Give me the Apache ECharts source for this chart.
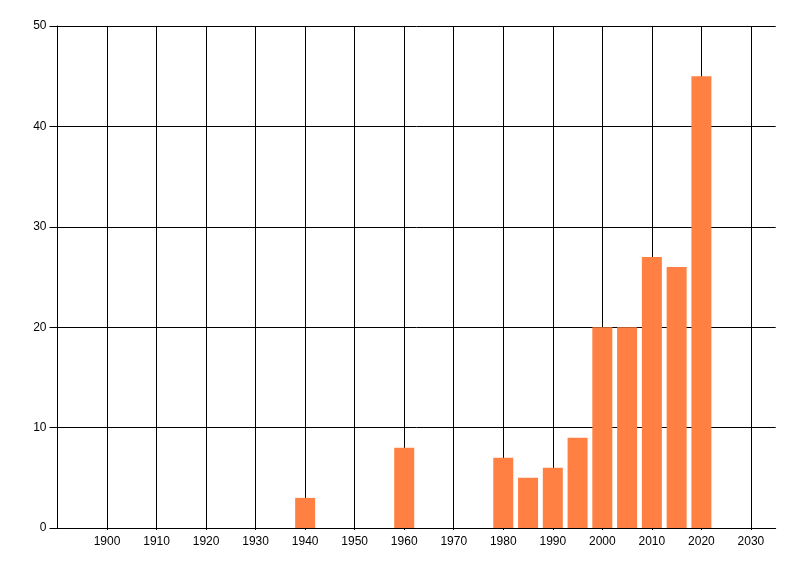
<!DOCTYPE html>
<html>
<head>
<meta charset="utf-8">
<script src="https://cdn.jsdelivr.net/npm/echarts@6/dist/echarts.min.js"></script>
<style>html,body{margin:0;padding:0;background:#fff;}#c{width:800px;height:576px;}</style>
</head>
<body>
<div id="c"></div>
<script>
const years = [1940, 1960, 1980, 1985, 1990, 1995, 2000, 2005, 2010, 2015, 2020];
const counts = [3, 8, 7, 5, 6, 9, 20, 20, 27, 26, 45];
const xMin = 1890, xMax = 2035, xStep = 10;
const yMin = 0, yMax = 50, yStep = 10;

const chart = echarts.init(document.getElementById('c'), null, {renderer: 'canvas'});
chart.setOption({
  animation: false,
  backgroundColor: '#ffffff',
  grid: {left: 57.5, right: 24.3, top: 26, bottom: 48, containLabel: false},
  xAxis: {
    type: 'value', min: xMin, max: xMax, interval: xStep,
    axisLine: {show: true, lineStyle: {color: '#000', width: 1}},
    axisTick: {show: true, length: 2, lineStyle: {color: '#000'}},
    axisLabel: {color: '#000', fontSize: 12, fontFamily: 'Liberation Sans, Arial, sans-serif', margin: 8,
      showMinLabel: false, showMaxLabel: false, formatter: v => String(v)},
    splitLine: {show: true, showMinLine: false, showMaxLine: false, lineStyle: {color: '#000', width: 1}}
  },
  yAxis: {
    type: 'value', min: yMin, max: yMax, interval: yStep,
    axisLine: {show: true, lineStyle: {color: '#000', width: 1}},
    axisTick: {show: true, length: 8, lineStyle: {color: '#000'}},
    axisLabel: {color: '#000', fontSize: 12, fontFamily: 'Liberation Sans, Arial, sans-serif', margin: 11},
    splitLine: {show: true, lineStyle: {color: '#000', width: 1}}
  },
  series: [{
    type: 'bar',
    data: years.map((y, i) => [y, counts[i]]),
    barWidth: 20,
    itemStyle: {color: '#FF8042'}
  }]
});
</script>
</body>
</html>
